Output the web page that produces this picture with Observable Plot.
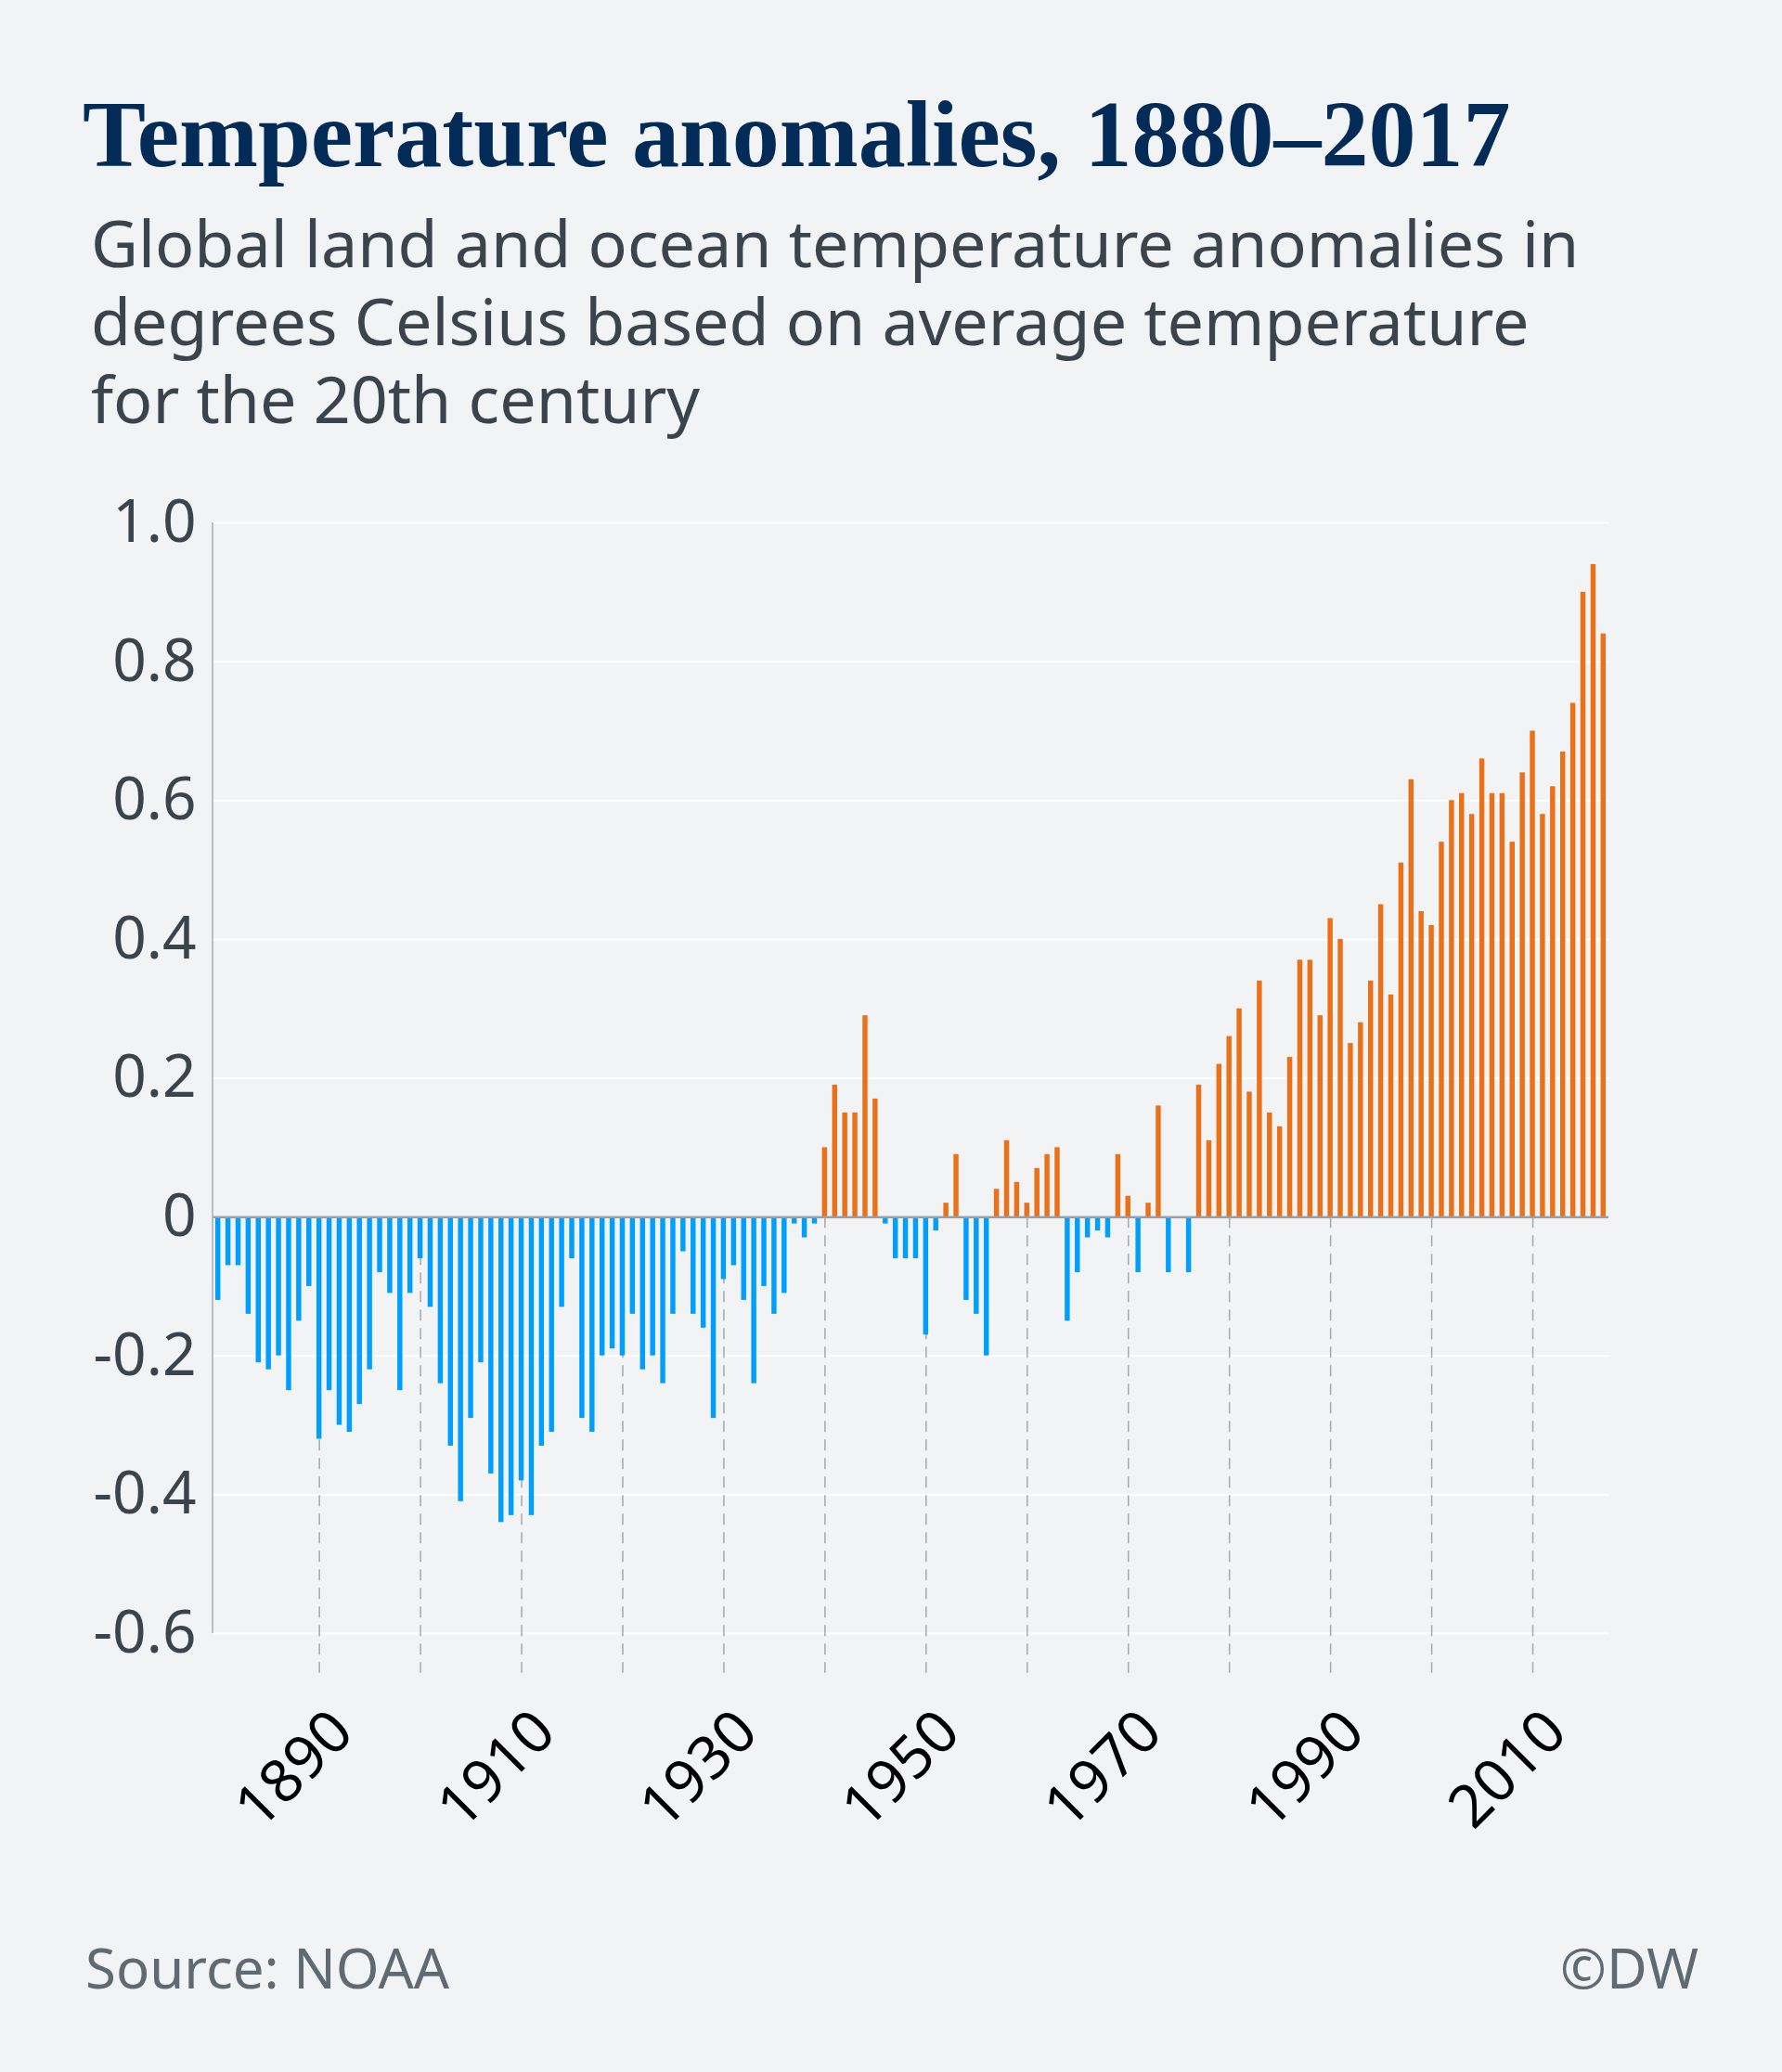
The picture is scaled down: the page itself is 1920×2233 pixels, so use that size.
<!DOCTYPE html>
<html>
<head>
<meta charset="utf-8">
<script src="https://cdn.jsdelivr.net/npm/d3@7"></script>
<script src="https://cdn.jsdelivr.net/npm/@observablehq/plot@0.6"></script>
<style>
  html, body { margin: 0; padding: 0; background: #f1f3f5; }
  #root { position: relative; width: 1920px; height: 2233px; background: #f1f3f5; overflow: hidden; }
  #title { position: absolute; left: 89px; top: 94px; font-family: "Liberation Serif", serif; font-weight: bold; font-size: 102px; line-height: 1; color: #022b57; white-space: nowrap; }
  .sub { position: absolute; left: 98px; font-family: "Noto Sans", sans-serif; font-size: 70px; line-height: 70px; height: 70px; color: #3b434c; white-space: nowrap; }
  #chart { position: absolute; left: 0; top: 480px; }
  #source { position: absolute; left: 92px; top: 2090px; font-family: "Noto Sans", sans-serif; font-size: 60px; line-height: 1; color: #5f6a73; }
  #copy { position: absolute; right: 90px; top: 2090px; font-family: "Noto Sans", sans-serif; font-size: 60px; line-height: 1; color: #5f6a73; }
</style>
</head>
<body>
<div id="root">
  <div id="title">Temperature anomalies, 1880–2017</div>
  <div class="sub" style="top:226px">Global land and ocean temperature anomalies in</div>
  <div class="sub" style="top:310px">degrees Celsius based on average temperature</div>
  <div class="sub" style="top:394px">for the 20th century</div>
  <div id="chart"></div>
  <div id="source">Source: NOAA</div>
  <div id="copy">©DW</div>
</div>
<script>
// Categories: years 1880–2017
const years = d3.range(1880, 2018);

// Temperature anomalies (°C), one per year
const anomalies = [
  -0.12, -0.07, -0.07, -0.14, -0.21, -0.22, -0.20, -0.25, -0.15, -0.10, // 1880s
  -0.32, -0.25, -0.30, -0.31, -0.27, -0.22, -0.08, -0.11, -0.25, -0.11, // 1890s
  -0.06, -0.13, -0.24, -0.33, -0.41, -0.29, -0.21, -0.37, -0.44, -0.43, // 1900s
  -0.38, -0.43, -0.33, -0.31, -0.13, -0.06, -0.29, -0.31, -0.20, -0.19, // 1910s
  -0.20, -0.14, -0.22, -0.20, -0.24, -0.14, -0.05, -0.14, -0.16, -0.29, // 1920s
  -0.09, -0.07, -0.12, -0.24, -0.10, -0.14, -0.11, -0.01, -0.03, -0.01, // 1930s
   0.10,  0.19,  0.15,  0.15,  0.29,  0.17, -0.01, -0.06, -0.06, -0.06, // 1940s
  -0.17, -0.02,  0.02,  0.09, -0.12, -0.14, -0.20,  0.04,  0.11,  0.05, // 1950s
   0.02,  0.07,  0.09,  0.10, -0.15, -0.08, -0.03, -0.02, -0.03,  0.09, // 1960s
   0.03, -0.08,  0.02,  0.16, -0.08,  0.00, -0.08,  0.19,  0.11,  0.22, // 1970s
   0.26,  0.30,  0.18,  0.34,  0.15,  0.13,  0.23,  0.37,  0.37,  0.29, // 1980s
   0.43,  0.40,  0.25,  0.28,  0.34,  0.45,  0.32,  0.51,  0.63,  0.44, // 1990s
   0.42,  0.54,  0.60,  0.61,  0.58,  0.66,  0.61,  0.61,  0.54,  0.64, // 2000s
   0.70,  0.58,  0.62,  0.67,  0.74,  0.90,  0.94,  0.84              // 2010s
];

// Tick values
const yTicks = [-0.6, -0.4, -0.2, 0, 0.2, 0.4, 0.6, 0.8, 1.0];
const decadeYears = [1890, 1900, 1910, 1920, 1930, 1940, 1950, 1960, 1970, 1980, 1990, 2000, 2010];
const labelYears = [1890, 1910, 1930, 1950, 1970, 1990, 2010];

// Colours
const signClasses = ["below", "above"];
const signColors = ["#009fff", "#eb7018"];

const data = years.map((year, i) => ({year, value: anomalies[i]}));

const yAxisLine = (index, scales, values, dimensions) => {
  const ns = "http://www.w3.org/2000/svg";
  const line = document.createElementNS(ns, "line");
  const x = dimensions.marginLeft;
  line.setAttribute("x1", x);
  line.setAttribute("x2", x);
  line.setAttribute("y1", dimensions.marginTop);
  line.setAttribute("y2", dimensions.height - dimensions.marginBottom);
  line.setAttribute("stroke", "#a7adb3");
  line.setAttribute("stroke-width", "1.5");
  return line;
};

const chart = Plot.plot({
  width: 1920,
  height: 1440,
  marginTop: 83,
  marginBottom: 160,
  marginLeft: 229,
  marginRight: 187,
  style: {background: "transparent", fontFamily: "'Noto Sans', sans-serif", overflow: "visible"},
  x: {type: "band", domain: years, paddingInner: 0.5, paddingOuter: 0.273, axis: null, label: null},
  y: {domain: [-0.6, 1.0], axis: null, label: null},
  color: {domain: signClasses, range: signColors},
  marks: [
    Plot.ruleY(yTicks, {stroke: "#ffffff", strokeWidth: 2}),
    Plot.ruleX(decadeYears, {x: d => d, y1: 0, y2: -0.657, stroke: "#a2aab2", strokeWidth: 1.5, strokeDasharray: "12,8"}),
    Plot.barY(data, {x: "year", y: "value", fill: d => d.value >= 0 ? "above" : "below"}),
    Plot.ruleY([0], {stroke: "#9a9fa5", strokeWidth: 2.5}),
    yAxisLine,
    Plot.axisY(yTicks, {
      label: null, tickSize: 0, tickPadding: 18, fontSize: 64, fill: "#3b434c",
      tickFormat: d => d === 0 ? "0" : d.toFixed(1)
    }),
    Plot.axisX(labelYears, {
      label: null, tickSize: 0, tickRotate: -45, tickPadding: 95, dx: 25, fontSize: 64, fill: "#000000",
      tickFormat: d => String(d)
    })
  ]
});

document.getElementById("chart").appendChild(chart);
</script>
</body>
</html>
